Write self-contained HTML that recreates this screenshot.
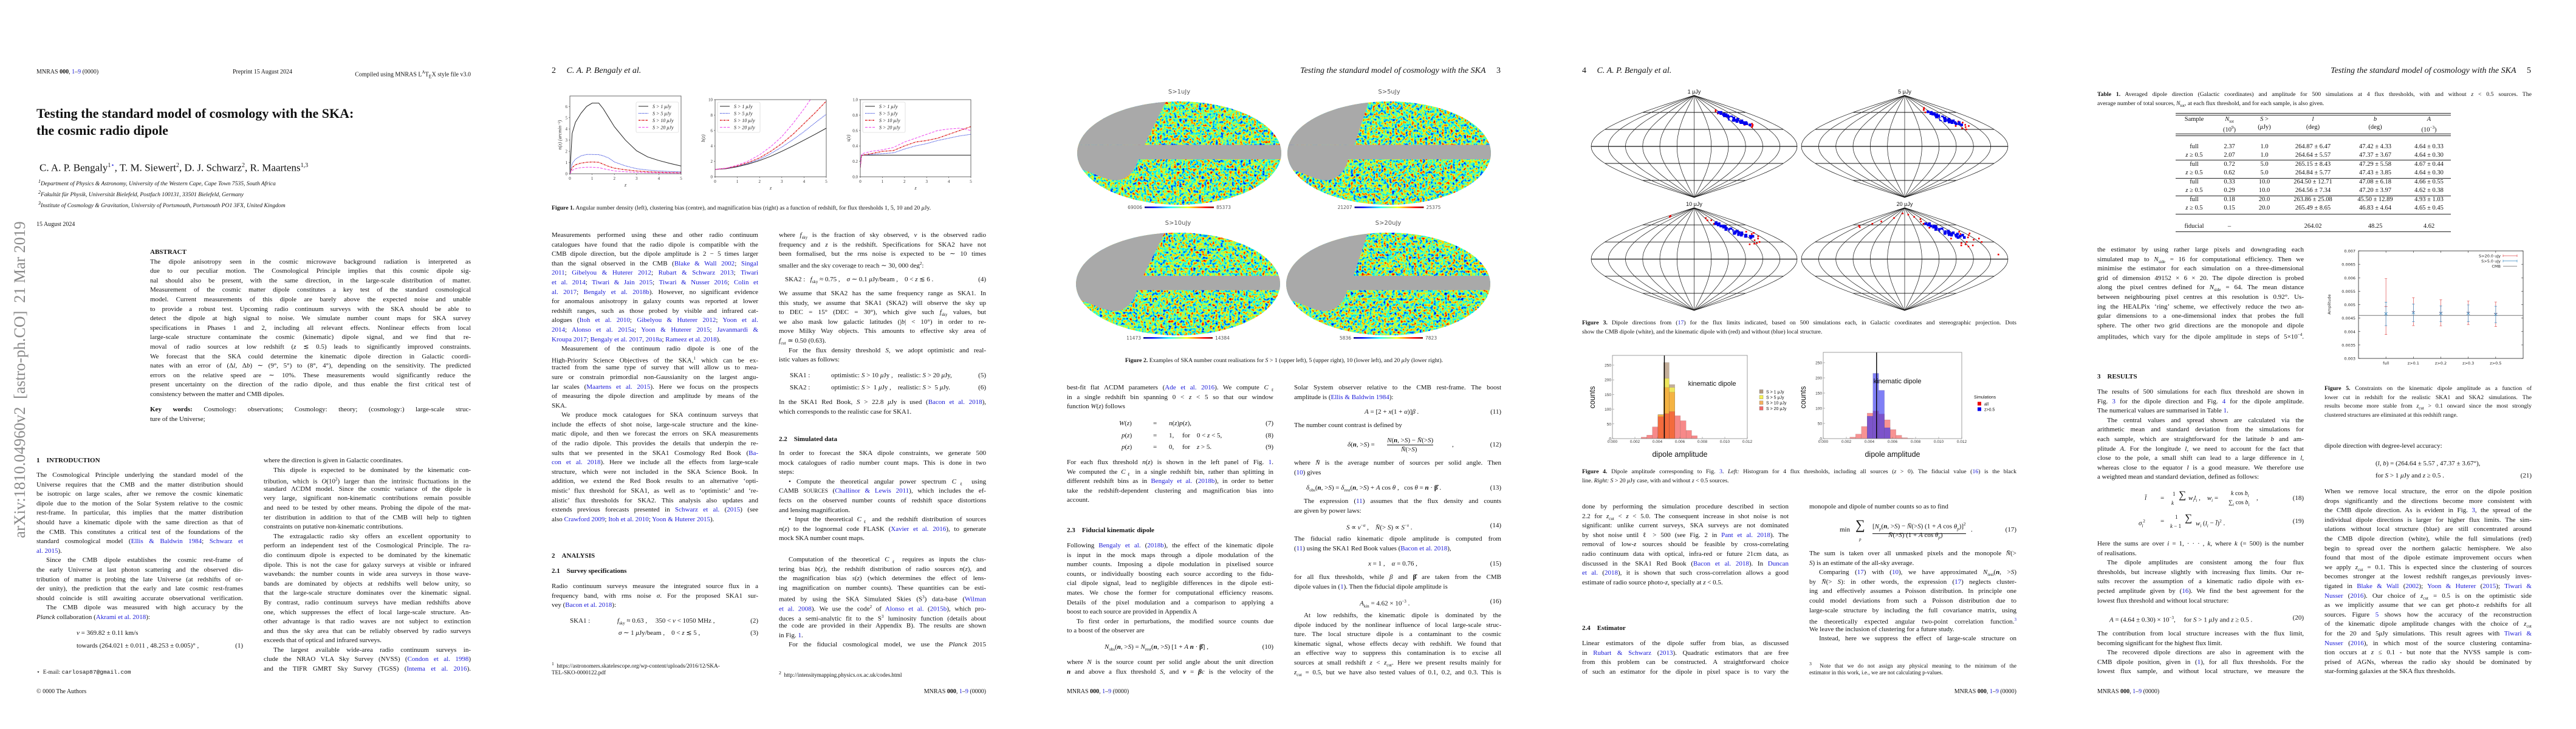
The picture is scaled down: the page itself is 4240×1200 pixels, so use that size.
<!DOCTYPE html>
<html><head><meta charset="utf-8">
<style>
body{margin:0;width:4240px;height:1200px;background:#fff;position:relative;overflow:hidden;color:#111}
.pg{position:absolute;top:0;width:848px;height:1200px;overflow:hidden}
.t{position:absolute;font-family:"Liberation Serif",serif;font-size:11px;line-height:15.6px}
.t>div{height:15.6px;overflow:hidden;white-space:normal}
.j{text-align:justify;text-align-last:justify}
.e{text-align:left}
.i{text-indent:16px}
.c{color:#1a1ad8}
.hd{position:absolute;font-family:"Liberation Serif",serif;font-size:10px;line-height:12px;white-space:nowrap}
.rh{position:absolute;font-family:"Liberation Serif",serif;font-style:italic;font-size:14px;line-height:16px;white-space:nowrap}
.cap{position:absolute;font-family:"Liberation Serif",serif;font-size:9.8px;line-height:14.5px}
.cap>div{height:14.5px;overflow:hidden}
.eq{position:absolute;font-family:"Liberation Serif",serif;font-size:11px;line-height:14px;white-space:nowrap}
.sec{position:absolute;font-family:"Liberation Serif",serif;font-size:11px;font-weight:bold;white-space:nowrap;line-height:15.6px}
.num{position:absolute;right:0}
svg.ov{position:absolute;left:0;top:0}
.tb{position:absolute;font-family:"Liberation Serif",serif;font-size:10.5px;line-height:14.5px}
.tr{position:absolute;left:189px;width:453px;height:14.5px;display:flex}
.tr span{text-align:center;white-space:nowrap}
.w1{width:61px}.w2{width:55px}.w3{width:60px}.w4{width:100px}.w5{width:105px}.w6{width:72px}
.rule{position:absolute;left:189px;width:453px;height:0;border-top:1px solid #222}
</style></head>
<body>

<!-- ================= PAGE 1 ================= -->
<div class="pg" style="left:0">
<div class="hd" style="left:60px;top:113px">MNRAS <b>000</b>, <span class="c">1</span>–<span class="c">9</span> (0000)</div>
<div class="hd" style="left:383px;top:113px">Preprint 15 August 2024</div>
<div class="hd" style="right:73px;top:113px">Compiled using MNRAS L<sup style="font-size:7px">A</sup>T<sub style="font-size:8px">E</sub>X style file v3.0</div>
<div style="position:absolute;left:60px;top:173px;font-family:'Liberation Serif',serif;font-weight:bold;font-size:22px;line-height:28px">Testing the standard model of cosmology with the SKA:<br>the cosmic radio dipole</div>
<div style="position:absolute;left:65px;top:263px;font-family:'Liberation Serif',serif;font-size:17px;line-height:20px;white-space:nowrap">C. A. P. Bengaly<sup style="font-size:10px">1<span class="c">⋆</span></sup>, T. M. Siewert<sup style="font-size:10px">2</sup>, D. J. Schwarz<sup style="font-size:10px">2</sup>, R. Maartens<sup style="font-size:10px">1,3</sup></div>
<div style="position:absolute;left:63px;top:292px;font-family:'Liberation Serif',serif;font-style:italic;font-size:9.6px;line-height:14px;white-space:nowrap"><sup>1</sup>Department of Physics &amp; Astronomy, University of the Western Cape, Cape Town 7535, South Africa<br><sup>2</sup>Fakultät für Physik, Universität Bielefeld, Postfach 100131, 33501 Bielefeld, Germany<br><sup>3</sup>Institute of Cosmology &amp; Gravitation, University of Portsmouth, Portsmouth PO1 3FX, United Kingdom</div>
<div class="hd" style="left:60px;top:364px">15 August 2024</div>
<div class="t" style="left:247px;top:408px;width:528px">
<div class="e"><b>ABSTRACT</b></div>
<div class="j">The dipole anisotropy seen in the cosmic microwave background radiation is interpreted as</div>
<div class="j">due to our peculiar motion. The Cosmological Principle implies that this cosmic dipole sig-</div>
<div class="j">nal should also be present, with the same direction, in the large-scale distribution of matter.</div>
<div class="j">Measurement of the cosmic matter dipole constitutes a key test of the standard cosmological</div>
<div class="j">model. Current measurements of this dipole are barely above the expected noise and unable</div>
<div class="j">to provide a robust test. Upcoming radio continuum surveys with the SKA should be able to</div>
<div class="j">detect the dipole at high signal to noise. We simulate number count maps for SKA survey</div>
<div class="j">specifications in Phases 1 and 2, including all relevant effects. Nonlinear effects from local</div>
<div class="j">large-scale structure contaminate the cosmic (kinematic) dipole signal, and we find that re-</div>
<div class="j">moval of radio sources at low redshift (<i>z</i> ≲ 0.5) leads to significantly improved constraints.</div>
<div class="j">We forecast that the SKA could determine the kinematic dipole direction in Galactic coordi-</div>
<div class="j">nates with an error of (Δ<i>l</i>, Δ<i>b</i>) ∼ (9°, 5°) to (8°, 4°), depending on the sensitivity. The predicted</div>
<div class="j">errors on the relative speed are ∼ 10%. These measurements would significantly reduce the</div>
<div class="j">present uncertainty on the direction of the radio dipole, and thus enable the first critical test of</div>
<div class="e">consistency between the matter and CMB dipoles.</div>
</div>
<div class="t" style="left:247px;top:667px;width:528px">
<div class="j"><b>Key words:</b> Cosmology: observations; Cosmology: theory; (cosmology:) large-scale struc-</div>
<div class="e">ture of the Universe;</div>
</div>
<div class="sec" style="left:60px;top:751px">1&nbsp;&nbsp;&nbsp;&nbsp;INTRODUCTION</div>
<div class="t" style="left:60px;top:775px;width:340px">
<div class="j">The Cosmological Principle underlying the standard model of the</div>
<div class="j">Universe requires that the CMB and the matter distribution should</div>
<div class="j">be isotropic on large scales, after we remove the cosmic kinematic</div>
<div class="j">dipole due to the motion of the Solar System relative to the cosmic</div>
<div class="j">rest-frame. In particular, this implies that the matter distribution</div>
<div class="j">should have a kinematic dipole with the same direction as that of</div>
<div class="j">the CMB. This constitutes a critical test of the foundations of the</div>
<div class="j">standard cosmological model (<span class="c">Ellis &amp; Baldwin 1984</span>; <span class="c">Schwarz et</span></div>
<div class="e"><span class="c">al. 2015</span>).</div>
<div class="j i">Since the CMB dipole establishes the cosmic rest-frame of</div>
<div class="j">the early Universe at last photon scattering and the observed dis-</div>
<div class="j">tribution of matter is probing the late Universe (at redshifts of or-</div>
<div class="j">der unity), the prediction that the early and late cosmic rest-frames</div>
<div class="j">should coincide is still awaiting accurate observational verification.</div>
<div class="j i">The CMB dipole was measured with high accuracy by the</div>
<div class="e"><i>Planck</i> collaboration (<span class="c">Akrami et al. 2018</span>):</div>
</div>
<div class="eq" style="left:126px;top:1035px;width:274px"><i>v</i> = 369.82 ± 0.11 km/s</div>
<div class="eq" style="left:126px;top:1056px;width:274px">towards (264.021 ± 0.011 , 48.253 ± 0.005)° ,<span class="num">(1)</span></div>
<div class="hd" style="left:60px;top:1101px;font-size:9.5px">⋆&nbsp; E-mail: <span style="font-family:'Liberation Mono',monospace">carlosap87@gmail.com</span></div>
<div class="hd" style="left:60px;top:1133px">© 0000 The Authors</div>
<div class="t" style="left:434px;top:751px;width:341px">
<div class="e">where the direction is given in Galactic coordinates.</div>
<div class="j i">This dipole is expected to be dominated by the kinematic con-</div>
<div class="j">tribution, which is <i>O</i>(10<sup style="font-size:7px">2</sup>) larger than the intrinsic fluctuations in the</div>
<div class="j">standard ΛCDM model. Since the cosmic variance of the dipole is</div>
<div class="j">very large, significant non-kinematic contributions remain possible</div>
<div class="j">and need to be tested by other means. Probing the dipole of the mat-</div>
<div class="j">ter distribution in addition to that of the CMB will help to tighten</div>
<div class="e">constraints on putative non-kinematic contributions.</div>
<div class="j i">The extragalactic radio sky offers an excellent opportunity to</div>
<div class="j">perform an independent test of the Cosmological Principle. The ra-</div>
<div class="j">dio continuum dipole is expected to be dominated by the kinematic</div>
<div class="j">dipole. This is not the case for galaxy surveys at visible or infrared</div>
<div class="j">wavebands: the number counts in wide area surveys in those wave-</div>
<div class="j">bands are dominated by objects at redshifts well below unity, so</div>
<div class="j">that the large-scale structure dominates over the kinematic signal.</div>
<div class="j">By contrast, radio continuum surveys have median redshifts above</div>
<div class="j">one, which suppresses the effect of local large-scale structure. An-</div>
<div class="j">other advantage is that radio waves are not subject to extinction</div>
<div class="j">and thus the sky area that can be reliably observed by radio surveys</div>
<div class="e">exceeds that of optical and infrared surveys.</div>
<div class="j i">The largest available wide-area radio continuum surveys in-</div>
<div class="j">clude the NRAO VLA Sky Survey (NVSS) (<span class="c">Condon et al. 1998</span>)</div>
<div class="j">and the TIFR GMRT Sky Survey (TGSS) (<span class="c">Intema et al. 2016</span>).</div>
</div>
<div style="position:absolute;left:33px;top:625px;width:0;height:0">
<div style="position:absolute;left:-300px;top:-17px;width:600px;text-align:center;transform:rotate(-90deg);font-family:'Liberation Serif',serif;font-size:26px;line-height:34px;color:#8a8a8a;white-space:nowrap">arXiv:1810.04960v2&nbsp; [astro-ph.CO]&nbsp; 21 Mar 2019</div>
</div>
</div>

<!-- ================= PAGE 2 ================= -->
<div class="pg" style="left:848px">
<div class="rh" style="left:60px;top:109px"><span style="font-style:normal">2</span>&nbsp;&nbsp;&nbsp;&nbsp;&nbsp;C. A. P. Bengaly et al.</div>
<svg class="ov" id="s2" width="848" height="1200"></svg>
<div class="cap" style="left:60px;top:336px;width:715px"><div class="e"><b>Figure 1.</b> Angular number density (left), clustering bias (centre), and magnification bias (right) as a function of redshift, for flux thresholds 1, 5, 10 and 20 <i>μ</i>Jy.</div></div>
<div class="t" style="left:60px;top:380px;width:340px">
<div class="j">Measurements performed using these and other radio continuum</div>
<div class="j">catalogues have found that the radio dipole is compatible with the</div>
<div class="j">CMB dipole direction, but the dipole amplitude is 2 − 5 times larger</div>
<div class="j">than the signal observed in the CMB (<span class="c">Blake &amp; Wall 2002</span>; <span class="c">Singal</span></div>
<div class="j"><span class="c">2011</span>; <span class="c">Gibelyou &amp; Huterer 2012</span>; <span class="c">Rubart &amp; Schwarz 2013</span>; <span class="c">Tiwari</span></div>
<div class="j"><span class="c">et al. 2014</span>; <span class="c">Tiwari &amp; Jain 2015</span>; <span class="c">Tiwari &amp; Nusser 2016</span>; <span class="c">Colin et</span></div>
<div class="j"><span class="c">al. 2017</span>; <span class="c">Bengaly et al. 2018b</span>). However, no significant evidence</div>
<div class="j">for anomalous anisotropy in galaxy counts was reported at lower</div>
<div class="j">redshift ranges, such as those probed by visible and infrared cat-</div>
<div class="j">alogues (<span class="c">Itoh et al. 2010</span>; <span class="c">Gibelyou &amp; Huterer 2012</span>; <span class="c">Yoon et al.</span></div>
<div class="j"><span class="c">2014</span>; <span class="c">Alonso et al. 2015a</span>; <span class="c">Yoon &amp; Huterer 2015</span>; <span class="c">Javanmardi &amp;</span></div>
<div class="e"><span class="c">Kroupa 2017</span>; <span class="c">Bengaly et al. 2017, 2018a</span>; <span class="c">Rameez et al. 2018</span>).</div>
<div class="j i">Measurement of the continuum radio dipole is one of the</div>
<div class="j">High-Priority Science Objectives of the SKA,<sup style="font-size:7px">1</sup> which can be ex-</div>
<div class="j">tracted from the same type of survey that will allow us to mea-</div>
<div class="j">sure or constrain primordial non-Gaussianity on the largest angu-</div>
<div class="j">lar scales (<span class="c">Maartens et al. 2015</span>). Here we focus on the prospects</div>
<div class="j">of measuring the dipole direction and amplitude by means of the</div>
<div class="e">SKA.</div>
<div class="j i">We produce mock catalogues for SKA continuum surveys that</div>
<div class="j">include the effects of shot noise, large-scale structure and the kine-</div>
<div class="j">matic dipole, and then we forecast the errors on SKA measurements</div>
<div class="j">of the radio dipole. This provides the details that underpin the re-</div>
<div class="j">sults that we presented in the SKA1 Cosmology Red Book (<span class="c">Ba-</span></div>
<div class="j"><span class="c">con et al. 2018</span>). Here we include all the effects from large-scale</div>
<div class="j">structure, which were not included in the SKA Science Book. In</div>
<div class="j">addition, we extend the Red Book results to an alternative ‘opti-</div>
<div class="j">mistic’ flux threshold for SKA1, as well as to ‘optimistic’ and ‘re-</div>
<div class="j">alistic’ flux thresholds for SKA2. This analysis also updates and</div>
<div class="j">extends previous forecasts presented in <span class="c">Schwarz et al.</span> (<span class="c">2015</span>) (see</div>
<div class="e">also <span class="c">Crawford 2009</span>; <span class="c">Itoh et al. 2010</span>; <span class="c">Yoon &amp; Huterer 2015</span>).</div>
</div>
<div class="sec" style="left:60px;top:908px">2&nbsp;&nbsp;&nbsp;&nbsp;ANALYSIS</div>
<div class="sec" style="left:60px;top:933px">2.1&nbsp;&nbsp;&nbsp;&nbsp;Survey specifications</div>
<div class="t" style="left:60px;top:958px;width:340px">
<div class="j">Radio continuum surveys measure the integrated source flux in a</div>
<div class="j">frequency band, with rms noise <i>σ</i>. For the proposed SKA1 sur-</div>
<div class="e">vey (<span class="c">Bacon et al. 2018</span>):</div>
</div>
<div class="eq" style="left:90px;top:1015px;width:310px">SKA1 :<span style="position:absolute;left:78px"><i>f</i><sub style="font-size:7px">sky</sub> ≈ 0.63 ,&nbsp;&nbsp;&nbsp;&nbsp; 350 &lt; <i>ν</i> &lt; 1050 MHz ,</span><span class="num">(2)</span></div>
<div class="eq" style="left:90px;top:1035px;width:310px"><span style="position:absolute;left:80px"><i>σ</i> ∼ 1 <i>μ</i>Jy/beam ,&nbsp;&nbsp;&nbsp; 0 &lt; <i>z</i> ≲ 5 ,</span><span class="num">(3)</span>&nbsp;</div>
<div class="cap" style="left:60px;top:1086px;width:340px;font-size:9.3px"><div class="e"><sup>1</sup>&nbsp; https://astronomers.skatelescope.org/wp-content/uploads/2016/12/SKA-</div><div class="e">TEL-SKO-0000122.pdf</div></div>
<div class="t" style="left:434px;top:380px;width:341px">
<div class="j">where <i>f</i><sub style="font-size:7px">sky</sub> is the fraction of sky observed, <i>ν</i> is the observed radio</div>
<div class="j">frequency and <i>z</i> is the redshift. Specifications for SKA2 have not</div>
<div class="j">been formalised, but the rms noise is expected to be ∼ 10 times</div>
<div class="e">smaller and the sky coverage to reach ∼ 30, 000 deg<sup style="font-size:7px">2</sup>:</div>
</div>
<div class="eq" style="left:444px;top:453px;width:331px">SKA2 :&nbsp;&nbsp; <i>f</i><sub style="font-size:7px">sky</sub> ≈ 0.75 ,&nbsp;&nbsp;&nbsp; <i>σ</i> ∼ 0.1 <i>μ</i>Jy/beam ,&nbsp;&nbsp;&nbsp; 0 &lt; <i>z</i> ≲ 6 .<span class="num">(4)</span></div>
<div class="t" style="left:434px;top:476px;width:341px">
<div class="j">We assume that SKA2 has the same frequency range as SKA1. In</div>
<div class="j">this study, we assume that SKA1 (SKA2) will observe the sky up</div>
<div class="j">to DEC = 15° (DEC = 30°), which give such <i>f</i><sub style="font-size:7px">sky</sub> values, but</div>
<div class="j">we also mask low galactic latitudes (|<i>b</i>| &lt; 10°) in order to re-</div>
<div class="j">move Milky Way objects. This amounts to effective sky area of</div>
<div class="e"><i>f</i><sub style="font-size:7px">cut</sub> ≃ 0.50 (0.63).</div>
<div class="j i">For the flux density threshold <i>S</i>, we adopt optimistic and real-</div>
<div class="e">istic values as follows:</div>
</div>
<div class="eq" style="left:452px;top:611px;width:323px">SKA1 :<span style="position:absolute;left:68px">optimistic: <i>S</i> &gt; 10 <i>μ</i>Jy ,&nbsp;&nbsp; realistic: <i>S</i> &gt; 20 <i>μ</i>Jy,</span><span class="num">(5)</span></div>
<div class="eq" style="left:452px;top:631px;width:323px">SKA2 :<span style="position:absolute;left:68px">optimistic: <i>S</i> &gt; &nbsp;1 <i>μ</i>Jy ,&nbsp;&nbsp;&nbsp; realistic: <i>S</i> &gt; &nbsp;5 <i>μ</i>Jy.</span><span class="num">(6)</span></div>
<div class="t" style="left:434px;top:655px;width:341px">
<div class="j">In the SKA1 Red Book, <i>S</i> &gt; 22.8 <i>μ</i>Jy is used (<span class="c">Bacon et al. 2018</span>),</div>
<div class="e">which corresponds to the realistic case for SKA1.</div>
</div>
<div class="sec" style="left:434px;top:716px">2.2&nbsp;&nbsp;&nbsp;&nbsp;Simulated data</div>
<div class="t" style="left:434px;top:739px;width:341px">
<div class="j">In order to forecast the SKA dipole constraints, we generate 500</div>
<div class="j">mock catalogues of radio number count maps. This is done in two</div>
<div class="e">steps:</div>
<div class="j i">• Compute the theoretical angular power spectrum <i>C</i><sub style="font-size:7px">ℓ</sub> using</div>
<div class="j">CAMB <span style="font-size:9px">SOURCES</span> (<span class="c">Challinor &amp; Lewis 2011</span>), which includes the ef-</div>
<div class="j">fects on the observed number counts of redshift space distortions</div>
<div class="e">and lensing magnification.</div>
<div class="j i">• Input the theoretical <i>C</i><sub style="font-size:7px">ℓ</sub> and the redshift distribution of sources</div>
<div class="j"><i>n</i>(<i>z</i>) to the lognormal code FLASK (<span class="c">Xavier et al. 2016</span>), to generate</div>
<div class="e">mock SKA number count maps.</div>
</div>
<div class="t" style="left:434px;top:914px;width:341px">
<div class="j i">Computation of the theoretical <i>C</i><sub style="font-size:7px">ℓ</sub> requires as inputs the clus-</div>
<div class="j">tering bias <i>b</i>(<i>z</i>), the redshift distribution of radio sources <i>n</i>(<i>z</i>), and</div>
<div class="j">the magnification bias <i>s</i>(<i>z</i>) (which determines the effect of lens-</div>
<div class="j">ing magnification on number counts). These quantities can be esti-</div>
<div class="j">mated by using the SKA Simulated Skies (S<sup style="font-size:7px">3</sup>) data-base (<span class="c">Wilman</span></div>
<div class="j"><span class="c">et al. 2008</span>). We use the code<sup style="font-size:7px">2</sup> of <span class="c">Alonso et al.</span> (<span class="c">2015b</span>), which pro-</div>
<div class="j">duces a semi-analytic fit to the S<sup style="font-size:7px">3</sup> luminosity function (details about</div>
<div class="j">the code are provided in their Appendix B). The results are shown</div>
<div class="e">in Fig. <span class="c">1</span>.</div>
<div class="j i">For the fiducial cosmological model, we use the <i>Planck</i> 2015</div>
</div>
<div class="cap" style="left:434px;top:1101px;width:341px;font-size:9.3px"><div class="e"><sup>2</sup>&nbsp; http://intensitymapping.physics.ox.ac.uk/codes.html</div></div>
<div class="hd" style="right:73px;top:1133px">MNRAS <b>000</b>, <span class="c">1</span>–<span class="c">9</span> (0000)</div>
</div>

<!-- ================= PAGE 3 ================= -->
<div class="pg" style="left:1696px">
<div class="rh" style="right:74px;top:109px">Testing the standard model of cosmology with the SKA&nbsp;&nbsp;&nbsp;&nbsp;&nbsp;<span style="font-style:normal">3</span></div>
<svg class="ov" id="s3" width="848" height="1200"></svg>
<div class="cap" style="left:60px;top:587px;width:715px;text-align:center"><div><b>Figure 2.</b> Examples of SKA number count realisations for <i>S</i> &gt; 1 (upper left), 5 (upper right), 10 (lower left), and 20 <i>μ</i>Jy (lower right).</div></div>
<div class="t" style="left:60px;top:631px;width:340px">
<div class="j">best-fit flat ΛCDM parameters (<span class="c">Ade et al. 2016</span>). We compute <i>C</i><sub style="font-size:7px">ℓ</sub></div>
<div class="j">in a single redshift bin spanning 0 &lt; <i>z</i> &lt; 5 so that our window</div>
<div class="e">function <i>W</i>(<i>z</i>) follows</div>
</div>
<div class="eq" style="left:146px;top:690px;width:254px"><i>W</i>(<i>z</i>)<span style="position:absolute;left:56px">=</span><span style="position:absolute;left:82px"><i>n</i>(<i>z</i>)<i>p</i>(<i>z</i>),</span><span class="num">(7)</span></div>
<div class="eq" style="left:150px;top:710px;width:250px"><i>p</i>(<i>z</i>)<span style="position:absolute;left:52px">=</span><span style="position:absolute;left:78px">1,&nbsp;&nbsp;&nbsp;&nbsp; for&nbsp;&nbsp;&nbsp; 0 &lt; <i>z</i> &lt; 5,</span><span class="num">(8)</span></div>
<div class="eq" style="left:150px;top:729px;width:250px"><i>p</i>(<i>z</i>)<span style="position:absolute;left:52px">=</span><span style="position:absolute;left:78px">0,&nbsp;&nbsp;&nbsp;&nbsp; for&nbsp;&nbsp;&nbsp; <i>z</i> &gt; 5.</span><span class="num">(9)</span></div>
<div class="t" style="left:60px;top:754px;width:340px">
<div class="j">For each flux threshold <i>n</i>(<i>z</i>) is shown in the left panel of Fig. <span class="c">1</span>.</div>
<div class="j">We computed the <i>C</i><sub style="font-size:7px">ℓ</sub> in a single redshift bin, rather than splitting in</div>
<div class="j">different redshift bins as in <span class="c">Bengaly et al.</span> (<span class="c">2018b</span>), in order to better</div>
<div class="j">take the redshift-dependent clustering and magnification bias into</div>
<div class="e">account.</div>
</div>
<div class="sec" style="left:60px;top:866px">2.3&nbsp;&nbsp;&nbsp;&nbsp;Fiducial kinematic dipole</div>
<div class="t" style="left:60px;top:891px;width:340px">
<div class="j">Following <span class="c">Bengaly et al.</span> (<span class="c">2018b</span>), the effect of the kinematic dipole</div>
<div class="j">is input in the mock maps through a dipole modulation of the</div>
<div class="j">number counts. Imposing a dipole modulation in pixelised source</div>
<div class="j">counts, or individually boosting each source according to the fidu-</div>
<div class="j">cial dipole signal, lead to negligible differences in the dipole esti-</div>
<div class="j">mates. We chose the former for computational efficiency reasons.</div>
<div class="j">Details of the pixel modulation and a comparison to applying a</div>
<div class="e">boost to each source are provided in Appendix A</div>
<div class="j i">To first order in perturbations, the modified source counts due</div>
<div class="e">to a boost of the observer are</div>
</div>
<div class="eq" style="left:122px;top:1058px;width:278px"><i>N</i><sub style="font-size:7px">obs</sub>(<b><i>n</i></b>, &gt;<i>S</i>) = <i>N</i><sub style="font-size:7px">rest</sub>(<b><i>n</i></b>, &gt;<i>S</i>) [1 + <i>A</i> <b><i>n</i></b> · <b>β̂</b>] ,<span class="num">(10)</span></div>
<div class="t" style="left:60px;top:1083px;width:340px">
<div class="j">where <i>N</i> is the source count per solid angle about the unit direction</div>
<div class="j"><b><i>n</i></b> and above a flux threshold <i>S</i>, and <b><i>v</i></b> = <b><i>β</i></b><i>c</i> is the velocity of the</div>
</div>
<div class="hd" style="left:60px;top:1133px">MNRAS <b>000</b>, <span class="c">1</span>–<span class="c">9</span> (0000)</div>
<div class="t" style="left:434px;top:631px;width:341px">
<div class="j">Solar System observer relative to the CMB rest-frame. The boost</div>
<div class="e">amplitude is (<span class="c">Ellis &amp; Baldwin 1984</span>):</div>
</div>
<div class="eq" style="left:434px;top:671px;width:341px"><span style="position:absolute;left:116px"><i>A</i> = [2 + <i>x</i>(1 + <i>α</i>)]<i>β</i> .</span><span class="num">(11)</span>&nbsp;</div>
<div class="t" style="left:434px;top:693px;width:341px"><div class="e">The number count contrast is defined by</div></div>
<div class="eq" style="left:434px;top:718px;width:341px;height:30px"><span style="position:absolute;left:88px;top:7px"><i>δ</i>(<b><i>n</i></b>, &gt;<i>S</i>) =</span><span style="position:absolute;left:153px;top:0;border-bottom:1px solid #111"><i>N</i>(<b><i>n</i></b>, &gt;<i>S</i>) − <i>N̄</i>(&gt;<i>S</i>)</span><span style="position:absolute;left:176px;top:15px"><i>N̄</i>(&gt;<i>S</i>)</span><span style="position:absolute;left:260px;top:7px">,</span><span class="num" style="top:7px">(12)</span></div>
<div class="t" style="left:434px;top:755px;width:341px">
<div class="j">where <i>N̄</i> is the average number of sources per solid angle. Then</div>
<div class="e">(<span class="c">10</span>) gives</div>
</div>
<div class="eq" style="left:434px;top:796px;width:341px"><span style="position:absolute;left:20px"><i>δ</i><sub style="font-size:7px">obs</sub>(<b><i>n</i></b>, &gt;<i>S</i>) = <i>δ</i><sub style="font-size:7px">rest</sub>(<b><i>n</i></b>, &gt;<i>S</i>) + <i>A</i> cos <i>θ</i> ,&nbsp;&nbsp; cos <i>θ</i> = <b><i>n</i></b> · <b>β̂</b> .</span><span class="num">(13)</span>&nbsp;</div>
<div class="t" style="left:434px;top:818px;width:341px">
<div class="j i">The expression (<span class="c">11</span>) assumes that the flux density and counts</div>
<div class="e">are given by power laws:</div>
</div>
<div class="eq" style="left:434px;top:858px;width:341px"><span style="position:absolute;left:86px"><i>S</i> ∝ <i>ν</i><sup style="font-size:7px">−<i>α</i></sup> ,&nbsp;&nbsp;&nbsp; <i>N̄</i>(&gt; <i>S</i>) ∝ <i>S</i><sup style="font-size:7px">−<i>x</i></sup> .</span><span class="num">(14)</span>&nbsp;</div>
<div class="t" style="left:434px;top:880px;width:341px">
<div class="j">The fiducial radio kinematic dipole amplitude is computed from</div>
<div class="e">(<span class="c">11</span>) using the SKA1 Red Book values (<span class="c">Bacon et al. 2018</span>),</div>
</div>
<div class="eq" style="left:434px;top:921px;width:341px"><span style="position:absolute;left:122px"><i>x</i> = 1 ,&nbsp;&nbsp;&nbsp; <i>α</i> = 0.76 ,</span><span class="num">(15)</span>&nbsp;</div>
<div class="t" style="left:434px;top:943px;width:341px">
<div class="j">for all flux thresholds, while <i>β</i> and <b>β̂</b> are taken from the CMB</div>
<div class="e">dipole values in (<span class="c">1</span>). Then the fiducial dipole amplitude is</div>
</div>
<div class="eq" style="left:434px;top:983px;width:341px"><span style="position:absolute;left:108px"><i>A</i><sub style="font-size:7px">kin</sub> = 4.62 × 10<sup style="font-size:7px">−3</sup> .</span><span class="num">(16)</span>&nbsp;</div>
<div class="t" style="left:434px;top:1006px;width:341px">
<div class="j i">At low redshifts, the kinematic dipole is dominated by the</div>
<div class="j">dipole induced by the nonlinear influence of local large-scale struc-</div>
<div class="j">ture. The local structure dipole is a contaminant to the cosmic</div>
<div class="j">kinematic signal, whose effects decay with redshift. We found that</div>
<div class="j">an effective way to suppress this contamination is to excise all</div>
<div class="j">sources at small redshift <i>z</i> &lt; <i>z</i><sub style="font-size:7px">cut</sub>. Here we present results mainly for</div>
<div class="j"><i>z</i><sub style="font-size:7px">cut</sub> = 0.5, but we have also tested values of 0.1, 0.2, and 0.3. This is</div>
</div>
</div>

<!-- ================= PAGE 4 ================= -->
<div class="pg" style="left:2544px">
<div class="rh" style="left:60px;top:109px"><span style="font-style:normal">4</span>&nbsp;&nbsp;&nbsp;&nbsp;&nbsp;C. A. P. Bengaly et al.</div>
<svg class="ov" id="s4" width="848" height="1200"></svg>
<div class="cap" style="left:60px;top:525px;width:715px">
<div class="j"><b>Figure 3.</b> Dipole directions from (<span class="c">17</span>) for the flux limits indicated, based on 500 simulations each, in Galactic coordinates and stereographic projection. Dots</div>
<div class="e">show the CMB dipole (white), and the kinematic dipole with (red) and without (blue) local structure.</div>
</div>
<div class="cap" style="left:60px;top:770px;width:715px">
<div class="j"><b>Figure 4.</b> Dipole amplitude corresponding to Fig. <span class="c">3</span>. <i>Left:</i> Histogram for 4 flux thresholds, including all sources (<i>z</i> &gt; 0). The fiducial value (<span class="c">16</span>) is the black</div>
<div class="e">line. <i>Right:</i> <i>S</i> &gt; 20 <i>μ</i>Jy case, with and without <i>z</i> &lt; 0.5 sources.</div>
</div>
<div class="t" style="left:60px;top:827px;width:340px">
<div class="j">done by performing the simulation procedure described in section</div>
<div class="j">2.2 for <i>z</i><sub style="font-size:7px">cut</sub> &lt; <i>z</i> &lt; 5.0. The consequent increase in shot noise is not</div>
<div class="j">significant: unlike current surveys, SKA surveys are not dominated</div>
<div class="j">by shot noise until ℓ &gt; 500 (see Fig. 2 in <span class="c">Pant et al. 2018</span>). The</div>
<div class="j">removal of low-<i>z</i> sources should be feasible by cross-correlating</div>
<div class="j">radio continuum data with optical, infra-red or future 21cm data, as</div>
<div class="j">discussed in the SKA1 Red Book (<span class="c">Bacon et al. 2018</span>). In <span class="c">Duncan</span></div>
<div class="j"><span class="c">et al.</span> (<span class="c">2018</span>), it is shown that such cross-correlation allows a good</div>
<div class="e">estimate of radio source photo-<i>z</i>, specially at <i>z</i> &lt; 0.5.</div>
</div>
<div class="sec" style="left:60px;top:1027px">2.4&nbsp;&nbsp;&nbsp;&nbsp;Estimator</div>
<div class="t" style="left:60px;top:1052px;width:340px">
<div class="j">Linear estimators of the dipole suffer from bias, as discussed</div>
<div class="j">in <span class="c">Rubart &amp; Schwarz</span> (<span class="c">2013</span>). Quadratic estimators that are free</div>
<div class="j">from this problem can be constructed. A straightforward choice</div>
<div class="j">of such an estimator for the dipole in pixel space is to vary the</div>
</div>
<div class="t" style="left:434px;top:827px;width:341px"><div class="e">monopole and dipole of number counts so as to find</div></div>
<div class="eq" style="left:434px;top:855px;width:341px;height:36px"><span style="position:absolute;left:50px;top:10px">min</span><span style="position:absolute;left:76px;top:2px;font-size:22px">∑</span><span style="position:absolute;left:82px;top:26px;font-size:7px"><i>p</i></span><span style="position:absolute;left:104px;top:1px;border-bottom:1px solid #111">[<i>N<sub style="font-size:7px">p</sub></i>(<b><i>n</i></b>, &gt;<i>S</i>) − <i>N̄</i>(&gt;<i>S</i>) (1 + <i>A</i> cos <i>θ<sub style="font-size:7px">p</sub></i>)]<sup style="font-size:7px">2</sup></span><span style="position:absolute;left:130px;top:19px"><i>N̄</i>(&gt;<i>S</i>) (1 + <i>A</i> cos <i>θ<sub style="font-size:7px">p</sub></i>)</span><span style="position:absolute;left:266px;top:10px">.</span><span class="num" style="top:10px">(17)</span></div>
<div class="t" style="left:434px;top:904px;width:341px">
<div class="j">The sum is taken over all unmasked pixels and the monopole <i>N̄</i>(&gt;</div>
<div class="e"><i>S</i>) is an estimate of the all-sky average.</div>
<div class="j i">Comparing (<span class="c">17</span>) with (<span class="c">10</span>), we have approximated <i>N</i><sub style="font-size:7px">rest</sub>(<b><i>n</i></b>, &gt;<i>S</i>)</div>
<div class="j">by <i>N̄</i>(&gt; <i>S</i>): in other words, the expression (<span class="c">17</span>) neglects cluster-</div>
<div class="j">ing and effectively assumes a Poisson distribution. In principle one</div>
<div class="j">could model deviations from such a Poisson distribution due to</div>
<div class="j">large-scale structure by including the full covariance matrix, using</div>
<div class="j">the theoretically expected angular two-point correlation function.<sup style="font-size:7px" class="c">3</sup></div>
<div class="e">We leave the inclusion of clustering for a future study.</div>
<div class="j i">Instead, here we suppress the effect of large-scale structure on</div>
</div>
<div class="cap" style="left:434px;top:1086px;width:341px;font-size:9.3px"><div class="j"><sup>3</sup>&nbsp; Note that we do not assign any physical meaning to the minimum of the</div><div class="e">estimator in this work, i.e., we are not calculating p-values.</div></div>
<div class="hd" style="right:73px;top:1133px">MNRAS <b>000</b>, <span class="c">1</span>–<span class="c">9</span> (0000)</div>
</div>

<!-- ================= PAGE 5 ================= -->
<div class="pg" style="left:3392px">
<div class="rh" style="right:74px;top:109px">Testing the standard model of cosmology with the SKA&nbsp;&nbsp;&nbsp;&nbsp;&nbsp;<span style="font-style:normal">5</span></div>
<div class="cap" style="left:60px;top:149px;width:715px">
<div class="j"><b>Table 1.</b> Averaged dipole direction (Galactic coordinates) and amplitude for 500 simulations at 4 flux thresholds, with and without <i>z</i> &lt; 0.5 sources. The</div>
<div class="e">average number of total sources, <i>N</i><sub style="font-size:7px">tot</sub>, at each flux threshold, and for each sample, is also given.</div>
</div>
<div class="tb" style="left:0;top:0;width:848px;height:400px">
<div class="rule" style="top:186px"></div><div class="rule" style="top:189px"></div>
<div class="tr" style="top:190px"><span class="w1">Sample</span><span class="w2"><i>N</i><sub style="font-size:7px">tot</sub></span><span class="w3"><i>S</i> &gt;</span><span class="w4"><i>l</i></span><span class="w5"><i>b</i></span><span class="w6"><i>A</i></span></div>
<div class="tr" style="top:203px"><span class="w1"></span><span class="w2">(10<sup style="font-size:7px">9</sup>)</span><span class="w3">(<i>μ</i>Jy)</span><span class="w4">(deg)</span><span class="w5">(deg)</span><span class="w6">(10<sup style="font-size:7px">−3</sup>)</span></div>
<div class="rule" style="top:220px"></div><div class="rule" style="top:223px"></div>
<div class="tr" style="top:235px"><span class="w1">full</span><span class="w2">2.37</span><span class="w3">1.0</span><span class="w4">264.87 ± 6.47</span><span class="w5">47.42 ± 4.33</span><span class="w6">4.64 ± 0.33</span></div>
<div class="tr" style="top:249px"><span class="w1"><i>z</i> ≥ 0.5</span><span class="w2">2.07</span><span class="w3">1.0</span><span class="w4">264.64 ± 5.57</span><span class="w5">47.37 ± 3.67</span><span class="w6">4.64 ± 0.30</span></div>
<div class="rule" style="top:263px"></div>
<div class="tr" style="top:264px"><span class="w1">full</span><span class="w2">0.72</span><span class="w3">5.0</span><span class="w4">265.15 ± 8.43</span><span class="w5">47.29 ± 5.58</span><span class="w6">4.67 ± 0.44</span></div>
<div class="tr" style="top:278px"><span class="w1"><i>z</i> ≥ 0.5</span><span class="w2">0.62</span><span class="w3">5.0</span><span class="w4">264.84 ± 5.77</span><span class="w5">47.43 ± 3.85</span><span class="w6">4.64 ± 0.30</span></div>
<div class="rule" style="top:293px"></div>
<div class="tr" style="top:293px"><span class="w1">full</span><span class="w2">0.33</span><span class="w3">10.0</span><span class="w4">264.50 ± 12.71</span><span class="w5">47.08 ± 6.18</span><span class="w6">4.66 ± 0.55</span></div>
<div class="tr" style="top:307px"><span class="w1"><i>z</i> ≥ 0.5</span><span class="w2">0.29</span><span class="w3">10.0</span><span class="w4">264.56 ± 7.34</span><span class="w5">47.20 ± 3.97</span><span class="w6">4.62 ± 0.38</span></div>
<div class="rule" style="top:322px"></div>
<div class="tr" style="top:322px"><span class="w1">full</span><span class="w2">0.18</span><span class="w3">20.0</span><span class="w4">263.86 ± 25.08</span><span class="w5">45.50 ± 12.89</span><span class="w6">4.93 ± 1.03</span></div>
<div class="tr" style="top:336px"><span class="w1"><i>z</i> ≥ 0.5</span><span class="w2">0.15</span><span class="w3">20.0</span><span class="w4">265.49 ± 8.65</span><span class="w5">46.83 ± 4.64</span><span class="w6">4.65 ± 0.45</span></div>
<div class="rule" style="top:352px"></div>
<div class="tr" style="top:366px"><span class="w1">fiducial</span><span class="w2">–</span><span class="w3"></span><span class="w4">264.02</span><span class="w5">48.25</span><span class="w6">4.62</span></div>
<div class="rule" style="top:381px"></div>
</div>
<div class="t" style="left:60px;top:404px;width:340px">
<div class="j">the estimator by using rather large pixels and downgrading each</div>
<div class="j">simulated map to <i>N</i><sub style="font-size:7px">side</sub> = 16 for computational efficiency. Then we</div>
<div class="j">minimise the estimator for each simulation on a three-dimensional</div>
<div class="j">grid of dimension 49152 × 6 × 20. The dipole direction is probed</div>
<div class="j">along the pixel centres defined for <i>N</i><sub style="font-size:7px">side</sub> = 64. The mean distance</div>
<div class="j">between neighbouring pixel centres at this resolution is 0.92°. Us-</div>
<div class="j">ing the HEALPix ‘ring’ scheme, we effectively reduce the two an-</div>
<div class="j">gular dimensions to a one-dimensional index that probes the full</div>
<div class="j">sphere. The other two grid directions are the monopole and dipole</div>
<div class="j">amplitudes, which vary for the dipole amplitude in steps of 5×10<sup style="font-size:7px">−4</sup>.</div>
</div>
<div class="sec" style="left:60px;top:613px">3&nbsp;&nbsp;&nbsp;&nbsp;RESULTS</div>
<div class="t" style="left:60px;top:638px;width:340px">
<div class="j">The results of 500 simulations for each flux threshold are shown in</div>
<div class="j">Fig. <span class="c">3</span> for the dipole direction and Fig. <span class="c">4</span> for the dipole amplitude.</div>
<div class="e">The numerical values are summarised in Table <span class="c">1</span>.</div>
<div class="j i">The central values and spread shown are calculated via the</div>
<div class="j">arithmetic mean and standard deviation from the simulations for</div>
<div class="j">each sample, which are straightforward for the latitude <i>b</i> and am-</div>
<div class="j">plitude <i>A</i>. For the longitude <i>l</i>, we need to account for the fact that</div>
<div class="j">close to the pole, a small shift can lead to a large difference in <i>l</i>,</div>
<div class="j">whereas close to the equator <i>l</i> is a good measure. We therefore use</div>
<div class="e">a weighted mean and standard deviation, defined as follows:</div>
</div>
<div class="eq" style="left:138px;top:806px;width:262px;height:30px"><span style="position:absolute;left:0;top:7px"><i>l̄</i></span><span style="position:absolute;left:26px;top:7px">=</span><span style="position:absolute;left:46px;top:0;font-size:9px">1</span><span style="position:absolute;left:44px;top:15px;font-size:9px"><i>k</i></span><span style="position:absolute;left:56px;top:2px;font-size:17px">∑</span><span style="position:absolute;left:72px;top:7px"><i>w<sub style="font-size:7px">i</sub>l<sub style="font-size:7px">i</sub></i> ,&nbsp;&nbsp;&nbsp; <i>w<sub style="font-size:7px">i</sub></i> =</span><span style="position:absolute;left:142px;top:0;font-size:10px"><i>k</i> cos <i>b<sub style="font-size:7px">i</sub></i></span><span style="position:absolute;left:138px;top:15px;font-size:10px">∑<sub style="font-size:7px"><i>i</i></sub> cos <i>b<sub style="font-size:7px">i</sub></i></span><span style="position:absolute;left:184px;top:7px">,</span><span class="num" style="top:7px">(18)</span></div>
<div class="eq" style="left:128px;top:844px;width:272px;height:30px"><span style="position:absolute;left:0;top:7px"><i>σ</i><sub style="font-size:7px"><i>l</i></sub><sup style="font-size:7px">2</sup></span><span style="position:absolute;left:36px;top:7px">=</span><span style="position:absolute;left:60px;top:0;font-size:9px">1</span><span style="position:absolute;left:52px;top:15px;font-size:9px"><i>k</i> − 1</span><span style="position:absolute;left:76px;top:2px;font-size:17px">∑</span><span style="position:absolute;left:94px;top:7px"><i>w<sub style="font-size:7px">i</sub></i> (<i>l<sub style="font-size:7px">i</sub></i> − <i>l̄</i>)<sup style="font-size:7px">2</sup> .</span><span class="num" style="top:7px">(19)</span></div>
<div class="t" style="left:60px;top:888px;width:340px">
<div class="j">Here the sums are over <i>i</i> = 1, · · · , <i>k</i>, where <i>k</i> (= 500) is the number</div>
<div class="e">of realisations.</div>
<div class="j i">The dipole amplitudes are consistent among the four flux</div>
<div class="j">thresholds, but increase slightly with increasing flux limits. Our re-</div>
<div class="j">sults recover the assumption of a kinematic radio dipole with ex-</div>
<div class="j">pected amplitude given by (<span class="c">16</span>). We find the best agreement for the</div>
<div class="e">lowest flux threshold and without local structure:</div>
</div>
<div class="eq" style="left:60px;top:1010px;width:340px"><span style="position:absolute;left:20px"><i>A</i> = (4.64 ± 0.30) × 10<sup style="font-size:7px">−3</sup>,&nbsp;&nbsp;&nbsp;&nbsp; for <i>S</i> &gt; 1 <i>μ</i>Jy and <i>z</i> ≥ 0.5 .</span><span class="num">(20)</span>&nbsp;</div>
<div class="t" style="left:60px;top:1036px;width:340px">
<div class="j">The contribution from local structure increases with the flux limit,</div>
<div class="e">becoming significant for the highest flux limit.</div>
<div class="j i">The recovered dipole directions are also in agreement with the</div>
<div class="j">CMB dipole position, given in (<span class="c">1</span>), for all flux thresholds. For the</div>
<div class="j">lowest flux sample, and without local structure, we measure the</div>
</div>
<div class="hd" style="left:60px;top:1133px">MNRAS <b>000</b>, <span class="c">1</span>–<span class="c">9</span> (0000)</div>
<svg class="ov" id="s5" width="848" height="1200"></svg>
<div class="cap" style="left:434px;top:633px;width:341px">
<div class="j"><b>Figure 5.</b> Constraints on the kinematic dipole amplitude as a function of</div>
<div class="j">lower cut in redshift for the realistic SKA1 and SKA2 simulations. The</div>
<div class="j">results become more stable from <i>z</i><sub style="font-size:7px">cut</sub> &gt; 0.1 onward since the most strongly</div>
<div class="e">clustered structures are eliminated at this redshift range.</div>
</div>
<div class="t" style="left:434px;top:727px;width:341px"><div class="e">dipole direction with degree-level accuracy:</div></div>
<div class="eq" style="left:518px;top:756px;width:257px">(<i>l</i>, <i>b</i>) = (264.64 ± 5.57 , 47.37 ± 3.67°),</div>
<div class="eq" style="left:518px;top:776px;width:257px">for <i>S</i> &gt; 1 <i>μ</i>Jy and <i>z</i> ≥ 0.5 .<span class="num">(21)</span></div>
<div class="t" style="left:434px;top:802px;width:341px">
<div class="j">When we remove local structure, the error on the dipole position</div>
<div class="j">drops significantly and the directions become more consistent with</div>
<div class="j">the CMB dipole direction. As is evident in Fig. <span class="c">3</span>, the spread of the</div>
<div class="j">individual dipole directions is larger for higher flux limits. The sim-</div>
<div class="j">ulations without local structure (blue) are still concentrated around</div>
<div class="j">the CMB dipole direction (white), while the full simulations (red)</div>
<div class="j">begin to spread over the northern galactic hemisphere. We also</div>
<div class="j">found that most of the dipole estimate improvement occurs when</div>
<div class="j">we apply <i>z</i><sub style="font-size:7px">cut</sub> = 0.1. This is expected since the clustering of sources</div>
<div class="j">becomes stronger at the lowest redshift ranges,as previously inves-</div>
<div class="j">tigated in <span class="c">Blake &amp; Wall</span> (<span class="c">2002</span>); <span class="c">Yoon &amp; Huterer</span> (<span class="c">2015</span>); <span class="c">Tiwari &amp;</span></div>
<div class="j"><span class="c">Nusser</span> (<span class="c">2016</span>). Our choice of <i>z</i><sub style="font-size:7px">cut</sub> = 0.5 is on the optimistic side</div>
<div class="j">as we implicitly assume that we can get photo-z redshifts for all</div>
<div class="j">sources. Figure <span class="c">5</span> shows how the accuracy of the reconstruction</div>
<div class="j">of the kinematic dipole amplitude changes with the choice of <i>z</i><sub style="font-size:7px">cut</sub></div>
<div class="j">for the 20 and 5<i>μ</i>Jy simulations. This result agrees with <span class="c">Tiwari &amp;</span></div>
<div class="j"><span class="c">Nusser</span> (<span class="c">2016</span>), in which most of the source clustering contamina-</div>
<div class="j">tion occurs at <i>z</i> ≤ 0.1 - but note that the NVSS sample is com-</div>
<div class="j">prised of AGNs, whereas the radio sky should be dominated by</div>
<div class="e">star-forming galaxies at the SKA flux thresholds.</div>
</div>
</div>

<script>
const NS='http://www.w3.org/2000/svg';
function mk(p,tag,a){const e=document.createElementNS(NS,tag);for(const k in a)e.setAttribute(k,a[k]);p.appendChild(e);return e;}
function txt(p,x,y,s,a){const e=mk(p,'text',Object.assign({x:x,y:y},a||{}));e.textContent=s;return e;}

/* ---------- Figure 1 data ---------- */
const nzZ=[0,0.1,0.25,0.5,0.75,1,1.3,1.5,1.75,2,2.5,3,3.5,4,4.5,5];
const nzS1=[0,3.6,4.6,5.4,6.0,6.3,6.3,5.8,5.0,4.2,3.0,2.05,1.5,1.18,0.92,0.69];
const nzS5=[0,0.9,1.3,1.6,1.72,1.72,1.7,1.6,1.4,1.05,0.7,0.45,0.33,0.25,0.2,0.17];
const nzS10=[0,0.55,0.8,0.95,1.02,1.05,1.02,0.85,0.65,0.5,0.35,0.25,0.18,0.14,0.11,0.1];
const nzS20=[0,0.3,0.45,0.55,0.58,0.58,0.55,0.45,0.35,0.25,0.18,0.13,0.1,0.08,0.07,0.06];
const bZ=[0,0.5,1,1.5,2,2.5,3,3.5,4,4.5,5];
const bS1=[0.95,1.05,1.3,1.65,2.1,2.65,3.3,4.0,4.75,5.5,6.3];
const bS5=[0.95,1.08,1.35,1.75,2.25,3.0,3.85,4.8,5.85,7.0,8.1];
const bS10=[0.95,1.1,1.4,1.85,2.45,3.3,4.3,5.5,6.9,8.3,9.8];
const bS20=[0.95,1.12,1.5,2.05,2.85,3.9,5.2,6.9,8.8,10.9,13];
const sZ=[0,0.05,0.1,0.5,1,1.5,2,2.5,3,3.5,4,4.5,5];
const sS1=[0.12,0.28,0.28,0.28,0.28,0.28,0.28,0.28,0.28,0.28,0.28,0.28,0.28];
const sS5=[0.12,0.27,0.28,0.29,0.3,0.31,0.36,0.4,0.43,0.47,0.5,0.53,0.55];
const sS10=[0.12,0.27,0.28,0.3,0.33,0.34,0.4,0.45,0.47,0.5,0.55,0.6,0.65];
const sS20=[0.12,0.28,0.3,0.33,0.35,0.38,0.45,0.5,0.55,0.6,0.62,0.63,0.6];
const zTicks=[0,1,2,3,4,5];
const legLabels=['S > 1 μJy','S > 5 μJy','S > 10 μJy','S > 20 μJy'];

(function(){
 const s=document.getElementById('s2');
 const styles=[{stroke:'#222',dash:'none',w:1},{stroke:'#3344dd',dash:'1.5,1',w:1},{stroke:'#dd2222',dash:'3,1,1,1',w:1.4},{stroke:'#ee44ee',dash:'4,2',w:1}];
 const panels=[
  {x0:90,x1:273,y0:158,y1:286,ymax:6.94,ticks:[0,1,2,3,4,5,6],fmt:v=>String(v),zs:nzZ,ser:[nzS1,nzS5,nzS10,nzS20],lab:'n(z) (arcmin⁻²)',lx:76,leg:[199,168],name:'number-density-plot'},
  {x0:329,x1:512,y0:164,y1:291,ymax:10,ticks:[0,2,4,6,8,10],fmt:v=>String(v),zs:bZ,ser:[bS1,bS5,bS10,bS20],lab:'b(z)',lx:312,leg:[333,168],name:'clustering-bias-plot'},
  {x0:568,x1:750,y0:164,y1:291,ymax:1,ticks:[0,0.2,0.4,0.6,0.8,1],fmt:v=>v.toFixed(1),zs:sZ,ser:[sS1,sS5,sS10,sS20],lab:'s(z)',lx:551,leg:[572,168],name:'magnification-bias-plot'}];
 panels.forEach((P,pi)=>{
  const g=mk(s,'g',{});
  
  
  const sx=v=>P.x0+v/5*(P.x1-P.x0), sy=v=>P.y1-v/P.ymax*(P.y1-P.y0);
  const cid='c1'+pi; const cp=mk(g,'clipPath',{id:cid}); mk(cp,'rect',{x:P.x0,y:P.y0,width:P.x1-P.x0,height:P.y1-P.y0});
  P.ser.forEach((arr,si)=>{
   const d=arr.map((v,k)=>(k?'L':'M')+sx(P.zs[k]).toFixed(1)+' '+sy(v).toFixed(1)).join(' ');
   const st=styles[si];
   const p=mk(g,'path',{d:d,fill:'none',stroke:st.stroke,'stroke-width':st.w,'stroke-dasharray':st.dash,'clip-path':'url(#'+cid+')'});
   
   
  });
  const box=mk(g,'rect',{x:P.x0,y:P.y0,width:P.x1-P.x0,height:P.y1-P.y0,fill:'none',stroke:'#444','stroke-width':0.8});
  
  
  P.ticks.forEach(t=>{
   mk(g,'line',{x1:P.x0-2,x2:P.x0,y1:sy(t),y2:sy(t),stroke:'#444','stroke-width':0.6});
   const tl=txt(g,P.x0-4,sy(t)+2.5,P.fmt(t),{'font-family':'Liberation Serif','font-size':7,'text-anchor':'end',fill:'#333'});
   
   
  });
  zTicks.forEach(t=>{
   mk(g,'line',{x1:sx(t),x2:sx(t),y1:P.y1,y2:P.y1+2,stroke:'#444','stroke-width':0.6});
   const tl=txt(g,sx(t),P.y1+10,String(t),{'font-family':'Liberation Serif','font-size':7,'text-anchor':'middle',fill:'#333'});
   
   
  });
  const xl=txt(g,(P.x0+P.x1)/2,P.y1+21,'z',{'font-family':'Liberation Serif','font-style':'italic','font-size':8,'text-anchor':'middle',fill:'#333'});
  
  
  const yl=txt(g,P.lx,(P.y0+P.y1)/2,P.lab,{'font-family':'Liberation Serif','font-style':'italic','font-size':8,'text-anchor':'middle',fill:'#333',transform:'rotate(-90 '+P.lx+' '+(P.y0+P.y1)/2+')'});
  
  
  const lg=mk(g,'g',{});
  
  
  mk(lg,'rect',{x:P.leg[0],y:P.leg[1],width:70,height:50,fill:'#fff',stroke:'#ccc','stroke-width':0.6,rx:2});
  legLabels.forEach((L,si)=>{
   const yy=P.leg[1]+7+si*11.5; const st=styles[si];
   mk(lg,'line',{x1:P.leg[0]+4,x2:P.leg[0]+20,y1:yy,y2:yy,stroke:st.stroke,'stroke-width':st.w,'stroke-dasharray':st.dash});
   const e=txt(lg,P.leg[0]+27,yy+3,L,{'font-family':'Liberation Serif','font-style':'italic','font-size':8,fill:'#222'});
   
   
  });
 });
})();

/* ---------- Figure 2 (maps) ---------- */
const mapTitles=['S>1uJy','S>5uJy','S>10uJy','S>20uJy'];
const mapMin=['69006','21207','11473','5836'];
const mapMax=['85373','25375','14384','7823'];
(function(){
 const s=document.getElementById('s3');
 const defs=mk(s,'defs',{});
 const gr=mk(defs,'linearGradient',{id:'jetg',x1:0,x2:1,y1:0,y2:0});
 [['0','#00007f'],['0.125','#0000ff'],['0.375','#00ffff'],['0.625','#ffff00'],['0.875','#ff0000'],['1','#7f0000']].forEach(c=>mk(gr,'stop',{offset:c[0],'stop-color':c[1]}));
 const boxes=[[77,413,167,337,150],[423,758,167,337,150],[75,411,383,552,366],[421,757,383,552,366]];
 boxes.forEach((b,i)=>{
  const g=mk(s,'g',{});
  
  
  const cx=(b[0]+b[1])/2, cy=(b[2]+b[3])/2, rx=(b[1]-b[0])/2, ry=(b[3]-b[2])/2;
  const f=mk(defs,'filter',{id:'nz'+i,x:0,y:0,width:1,height:1,'color-interpolation-filters':'sRGB'});
  mk(f,'feTurbulence',{type:'fractalNoise',baseFrequency:'0.22',numOctaves:'2',seed:String(3+i*7)});
  mk(f,'feColorMatrix',{type:'matrix',values:'1 0 0 0 0  1 0 0 0 0  1 0 0 0 0  0 0 0 0 1'});
  const ct=mk(f,'feComponentTransfer',{});
  ['feFuncR','feFuncG','feFuncB'].forEach(n=>mk(ct,n,{type:'linear',slope:'1.3',intercept:'-0.15'}));
  const ct2=mk(f,'feComponentTransfer',{});
  mk(ct2,'feFuncR',{type:'table',tableValues:'0 0 0 0 0.5 1 1 1 0.5'});
  mk(ct2,'feFuncG',{type:'table',tableValues:'0 0 0.5 1 1 1 0.5 0 0'});
  mk(ct2,'feFuncB',{type:'table',tableValues:'0.5 1 1 1 0.5 0 0 0 0'});
  const cp=mk(defs,'clipPath',{id:'el'+i}); mk(cp,'ellipse',{cx:cx,cy:cy,rx:rx,ry:ry});
  const mg=mk(g,'g',{'clip-path':'url(#el'+i+')'});
  mk(mg,'rect',{x:b[0],y:b[2],width:rx*2,height:ry*2,filter:'url(#nz'+i+')'});
  const U=u=>cx+u*rx, V=v=>cy+v*ry;
  const grey='#a9a9a9';
  const top=(i%2?-0.2:-0.13);
  mk(mg,'path',{d:`M${b[0]} ${b[2]} L${U(top)} ${b[2]} L${U(-0.34)} ${V(-0.16)} L${b[0]} ${V(-0.16)} Z`,fill:grey});
  mk(mg,'rect',{x:b[0],y:V(-0.16),width:rx*2,height:(0.28)*ry,fill:grey});
  mk(mg,'path',{d:`M${b[0]} ${V(0.11)} L${U(-0.4)} ${V(0.11)} C${U(-0.44)} ${V(0.42)} ${U(-0.55)} ${V(0.56)} ${U(-0.66)} ${V(0.52)} C${U(-0.78)} ${V(0.48)} ${U(-0.88)} ${V(0.34)} ${b[0]} ${V(0.3)} Z`,fill:grey});
  const t=txt(g,cx,b[4]+4,mapTitles[i],{'font-family':'DejaVu Sans','font-size':10,'text-anchor':'middle',fill:'#555'});
  
  
  const cby=b[3]+3;
  const cb=mk(g,'rect',{x:cx-57,y:cby,width:114,height:2.5,fill:'url(#jetg)'});
  
  
  const l1=txt(g,cx-61,cby+4,mapMin[i],{'font-family':'DejaVu Sans','font-size':7.5,'text-anchor':'end',fill:'#555'});
  
  
  const l2=txt(g,cx+61,cby+4,mapMax[i],{'font-family':'DejaVu Sans','font-size':7.5,fill:'#555'});
  
  
 });
})();

/* ---------- Figure 3 (dipole directions, display lon/lat in degrees) ---------- */
const fig3Titles=['1 μJy','5 μJy','10 μJy','20 μJy'];
const cmbDipole=[98,49];
const blue1=[[88,58],[92,56],[95,54],[98,52],[101,50],[104,48],[108,46],[112,44],[116,42],[120,40],[90,54],[96,50],[102,46],[110,42],[94,60],[100,56],[106,52],[114,48],[118,45],[98,46],[104,44],[92,48],[124,38],[86,60],[100,54],[108,50],[112,47],[96,57],[115,40],[122,42]];
const red1=[[80,62],[126,36],[130,38],[78,58],[122,34],[132,40],[86,64],[112,38]];
const blue2=[[86,58],[90,57],[94,55],[98,53],[102,50],[106,48],[110,46],[114,44],[118,42],[124,40],[90,52],[96,49],[103,46],[111,42],[93,60],[100,56],[107,52],[115,48],[120,45],[99,45],[106,43],[92,47],[126,38],[84,61],[101,54],[109,50],[113,46],[97,58],[117,40],[128,42]];
const red2=[[76,64],[128,34],[134,38],[82,66],[118,32],[136,42],[90,68],[124,30],[72,60],[138,36],[130,44],[110,36]];
const blue3=[[84,60],[88,58],[92,56],[96,54],[100,52],[104,50],[108,48],[112,46],[116,44],[122,42],[128,40],[90,52],[96,49],[103,46],[111,42],[118,40],[93,62],[100,57],[107,53],[115,49],[120,46],[99,45],[106,43],[126,38],[80,62],[134,40],[113,46],[97,58],[117,40],[88,64]];
const red3=[[-170,76],[-155,74],[62,68],[66,72],[140,44],[138,36],[132,30],[124,28],[146,40],[74,62],[126,33],[118,27],[108,26],[150,46],[80,68],[136,48]];
const blue4=[[82,60],[86,58],[90,56],[94,54],[98,52],[102,50],[106,48],[110,46],[114,44],[120,42],[126,40],[132,38],[88,52],[95,49],[102,46],[110,42],[118,40],[92,62],[100,57],[108,53],[116,49],[122,46],[99,45],[106,43],[128,44],[78,62],[136,42],[112,46],[96,58],[118,38]];
const red4=[[-150,58],[-140,56],[-120,62],[-100,66],[-60,72],[-20,80],[30,78],[60,74],[80,70],[70,62],[75,55],[140,38],[150,42],[160,45],[165,8],[120,22],[118,26],[112,28],[125,30],[135,44],[145,34],[155,30],[130,24],[108,24],[70,66],[142,48],[100,36],[160,36]];
const fig3Blue=[blue1,blue2,blue3,blue4], fig3Red=[red1,red2,red3,red4];
const gridLons=[-180,-150,-120,-90,-60,-30,0,30,60,90,120,150,180];
const gridLats=[-60,-30,0,30,60];

/* ---------- Figure 4 (histograms) ---------- */
const histEdgesL=[0.00255,0.00305,0.00355,0.00405,0.00455,0.00505,0.00555,0.00605,0.00655,0.00705,0.00755];
const histS1=[0,0,0,82,259,184,0,0,0,0];
const histS5=[0,0,0,81,205,174,0,0,0,0];
const histS10=[0,0,0,81,174,158,0,0,0,0];
const histS20=[5,12,40,75,85,92,78,61,28,10];
const histEdgesR=[0.0023,0.0028,0.0033,0.0038,0.0043,0.0048,0.0053,0.0058,0.0063,0.0068,0.0073,0.0078];
const histAll=[5,15,40,84,91,81,62,30,11,3,1];
const histCut=[0,0,0,74,215,159,36,0,0,0,0];
const ampXTicks=[0,0.002,0.004,0.006,0.008,0.010,0.012];
const countTicks=[0,50,100,150,200,250];
const fiducialAmp=0.00462;

(function(){
 const s=document.getElementById('s4');
 const panels=[[75,414,157,325,150],[421,761,157,325,150],[75,414,342,511,335],[421,761,342,511,335]];
 panels.forEach((P,i)=>{
  const g=mk(s,'g',{});
  
  
  const cx=(P[0]+P[1])/2, cy=(P[2]+P[3])/2, hw=(P[1]-P[0])/2, hh=(P[3]-P[2])/2;
  const px=(lon,lat)=>cx+lon/180*hw*Math.cos(lat*Math.PI/180), py=lat=>cy-lat/90*hh;
  gridLons.forEach(lon=>{
   let d='';for(let lat=-90;lat<=90;lat+=5)d+=(lat===-90?'M':'L')+px(lon,lat).toFixed(1)+' '+py(lat).toFixed(1);
   const m=mk(g,'path',{d:d,fill:'none',stroke:'#111','stroke-width':0.7});
   
   
  });
  gridLats.forEach(lat=>{
   const l=mk(g,'line',{x1:px(-180,lat),x2:px(180,lat),y1:py(lat),y2:py(lat),stroke:'#111','stroke-width':lat===0?1.2:0.9});
   
   
  });
  fig3Red[i].forEach(p=>{
   const r=mk(g,'rect',{x:px(p[0],p[1])-1.3,y:py(p[1])-1.3,width:2.6,height:2.6,fill:'#ee0000'});
   
   
  });
  fig3Blue[i].forEach(p=>{
   const r=mk(g,'rect',{x:px(p[0],p[1])-2.2,y:py(p[1])-2.2,width:4.4,height:4.4,fill:'#0000ee'});
   
   
  });
  const w=mk(g,'circle',{cx:px(cmbDipole[0],cmbDipole[1]),cy:py(cmbDipole[1]),r:2.6,fill:'#fff'});
  
  
  const t=txt(g,cx,P[4]+4,fig3Titles[i],{'font-family':'Liberation Sans','font-size':9,'text-anchor':'middle',fill:'#111'});
  
  
 });

 const H=[{x0:110,x1:332,y0:585,y1:722,cpp:0.484,name:'histogram-left'},{x0:457,x1:685,y0:580,y1:722,cpp:0.5,name:'histogram-right'}];
 H.forEach((A,hi)=>{
  const g=mk(s,'g',{});
  
  
  const sx=v=>A.x0+v/0.012*(A.x1-A.x0), sy=c=>A.y1-c*A.cpp;
  const drawBars=(edges,arr,col,op,nm)=>arr.forEach((c,k)=>{ if(!c)return;
   const r=mk(g,'rect',{x:sx(edges[k]),y:sy(c),width:sx(edges[k+1])-sx(edges[k]),height:c*A.cpp,fill:col,'fill-opacity':op,stroke:'#555','stroke-opacity':0.35,'stroke-width':0.4});
   
   
  });
  if(hi===0){
   drawBars(histEdgesL,histS1,'#b59a80',0.8,'bar-s1');
   drawBars(histEdgesL,histS5,'#f6f050',0.85,'bar-s5');
   drawBars(histEdgesL,histS10,'#f5a23a',0.75,'bar-s10');
   drawBars(histEdgesL,histS20,'#f23a3a',0.6,'bar-s20');
  } else {
   drawBars(histEdgesR,histAll,'#f23a3a',0.55,'bar-all');
   drawBars(histEdgesR,histCut,'#2a2af0',0.6,'bar-z-cut');
  }
  const fl=mk(g,'line',{x1:sx(fiducialAmp),x2:sx(fiducialAmp),y1:A.y0,y2:A.y1,stroke:'#000','stroke-width':1.4});
  
  
  const fr=mk(g,'rect',{x:A.x0,y:A.y0,width:A.x1-A.x0,height:A.y1-A.y0,fill:'none',stroke:'#777','stroke-width':0.7});
  
  
  ampXTicks.forEach(t=>{
   mk(g,'line',{x1:sx(t),x2:sx(t),y1:A.y1,y2:A.y1-3,stroke:'#777','stroke-width':0.5});
   const e=txt(g,sx(t),A.y1+7,t.toFixed(3),{'font-family':'Liberation Sans','font-size':6.5,'text-anchor':'middle',fill:'#333'});
   
   
  });
  countTicks.forEach(t=>{
   mk(g,'line',{x1:A.x0,x2:A.x0+3,y1:sy(t),y2:sy(t),stroke:'#777','stroke-width':0.5});
   const e=txt(g,A.x0-2,sy(t)+2.5,String(t),{'font-family':'Liberation Sans','font-size':6.5,'text-anchor':'end',fill:'#333'});
   
   
  });
  const xt=txt(g,(A.x0+A.x1)/2,752,'dipole amplitude',{'font-family':'Liberation Sans','font-size':12.5,'text-anchor':'middle',fill:'#111'});
  
  
  const ylx=hi?428:81;
  const yt=txt(g,ylx,654,'counts',{'font-family':'Liberation Sans','font-size':12.5,'text-anchor':'middle',fill:'#111',transform:'rotate(-90 '+ylx+' 654)'});
  
  
  const kd=txt(g,hi?579:274,hi?631:635,'kinematic dipole',{'font-family':'Liberation Sans','font-size':11,'text-anchor':'middle',fill:'#111'});
  
  
 });
 const legL=[['S > 1 μJy','#b59a80'],['S > 5 μJy','#f6f050'],['S > 10 μJy','#f5b060'],['S > 20 μJy','#f26a6a']];
 legL.forEach((L,k)=>{
  const y=645+k*9.2;
  mk(s,'rect',{x:352,y:y-3.5,width:6,height:6,fill:L[1],stroke:'#777','stroke-width':0.4});
  const e=txt(s,363,y+2.3,L[0],{'font-family':'Liberation Sans','font-size':7,fill:'#111'});
  
  
 });
 const st=txt(s,705,656,'Simulations',{'font-family':'Liberation Sans','font-size':7,fill:'#111'});
 
 
 [['all','#ee0000'],['z>0.5','#0000ee']].forEach((L,k)=>{
  const y=665+k*9;
  mk(s,'rect',{x:711,y:y-3.5,width:6,height:6,fill:L[1]});
  const e=txt(s,722,y+2.3,L[0],{'font-family':'Liberation Sans','font-size':7,fill:'#111'});
  
  
 });
})();

/* ---------- Figure 5 ---------- */
const cutLabels=['full','z>0.1','z>0.2','z>0.3','z>0.5'];
const s20Mid=[0.00493,0.00474,0.0047,0.00471,0.00466];
const s20Lo=[0.00389,0.00422,0.00421,0.00426,0.00419];
const s20Hi=[0.00597,0.00526,0.00518,0.00514,0.0051];
const s5Mid=[0.00466,0.0047,0.00468,0.00468,0.00464];
const s5Lo=[0.00422,0.00437,0.00437,0.00437,0.00433];
const s5Hi=[0.00509,0.00502,0.00495,0.00499,0.00494];
const cmbAmp=0.0046;
const ampTicks=[0.003,0.0035,0.004,0.0045,0.005,0.0055,0.006,0.0065,0.007];
(function(){
 const s=document.getElementById('s5');
 const X0=490,X1=761,Y0=413,Y1=590;
 const sy=v=>Y1-(v-0.003)/0.004*(Y1-Y0);
 const sx=i=>X0+(X1-X0)*(i+1)/6;
 const g=mk(s,'g',{});
 
 
 const fr=mk(g,'rect',{x:X0,y:Y0,width:X1-X0,height:Y1-Y0,fill:'none',stroke:'#222','stroke-width':0.8});
 
 
 ampTicks.forEach(t=>{
  mk(g,'line',{x1:X0,x2:X0+3,y1:sy(t),y2:sy(t),stroke:'#222','stroke-width':0.6});
  mk(g,'line',{x1:X1-3,x2:X1,y1:sy(t),y2:sy(t),stroke:'#222','stroke-width':0.6});
  const e=txt(g,X0-5,sy(t)+2.5,String(t),{'font-family':'DejaVu Sans','font-size':6.5,'text-anchor':'end',fill:'#222'});
  
  
 });
 cutLabels.forEach((c,i)=>{
  mk(g,'line',{x1:sx(i),x2:sx(i),y1:Y1,y2:Y1-3,stroke:'#222','stroke-width':0.6});
  mk(g,'line',{x1:sx(i),x2:sx(i),y1:Y0,y2:Y0+3,stroke:'#222','stroke-width':0.6});
  const e=txt(g,sx(i),Y1+10,c,{'font-family':'DejaVu Sans','font-size':6.5,'text-anchor':'middle',fill:'#222'});
  
  
 });
 const yt=txt(g,444,501,'Amplitude',{'font-family':'DejaVu Sans','font-size':6.5,'text-anchor':'middle',fill:'#222',transform:'rotate(-90 444 501)'});
 
 
 const cl=mk(g,'line',{x1:X0,x2:X1,y1:sy(cmbAmp),y2:sy(cmbAmp),stroke:'#777','stroke-width':1});
 
 
 const series=[[s20Mid,s20Lo,s20Hi,'#e05050','+','red-errorbar'],[s5Mid,s5Lo,s5Hi,'#3a8ac0','x','blue-errorbar']];
 series.forEach(S=>{
  S[0].forEach((m,i)=>{
   const x=sx(i);
   const eb=mk(g,'path',{d:`M${x} ${sy(S[1][i])} L${x} ${sy(S[2][i])} M${x-2} ${sy(S[1][i])} L${x+2} ${sy(S[1][i])} M${x-2} ${sy(S[2][i])} L${x+2} ${sy(S[2][i])}`,stroke:S[3],'stroke-width':0.7,fill:'none'});
   
   
   const y=sy(m);
   const mkr=mk(g,'path',{d:S[4]==='+'?`M${x-2.5} ${y} L${x+2.5} ${y} M${x} ${y-2.5} L${x} ${y+2.5}`:`M${x-2.5} ${y-2.5} L${x+2.5} ${y+2.5} M${x-2.5} ${y+2.5} L${x+2.5} ${y-2.5}`,stroke:S[3],'stroke-width':0.8,fill:'none'});
   
   
  });
 });
 const leg=[['S>20.0 uJy','#e05050'],['S>5.0 uJy','#3a8ac0'],['CMB','#777']];
 leg.forEach((L,k)=>{
  const y=421+k*8.6;
  const e=txt(g,724,y+2.5,L[0],{'font-family':'DejaVu Sans','font-size':6.5,'text-anchor':'end',fill:'#222'});
  
  
  mk(g,'line',{x1:728,x2:751,y1:y,y2:y,stroke:L[1],'stroke-width':0.8});
  if(k<2){mk(g,'path',{d:`M728 ${y-2} L728 ${y+2} M751 ${y-2} L751 ${y+2}`,stroke:L[1],'stroke-width':0.7});}
 });
})();
</script>
</body></html>
